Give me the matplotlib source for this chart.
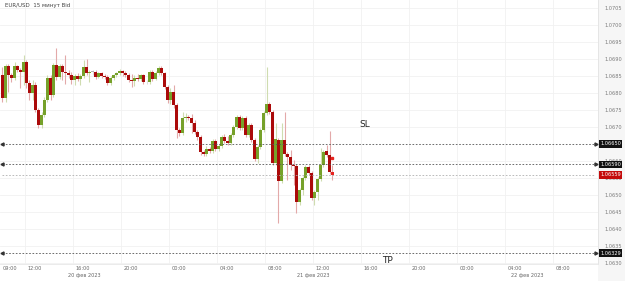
"""EUR/USD 15-minute candlestick chart with SL / TP levels."""

from datetime import datetime, timedelta

import matplotlib
matplotlib.use('Agg')
import matplotlib.pyplot as plt
import matplotlib.dates as mdates
import matplotlib.transforms as mtransforms
from matplotlib.patches import Rectangle


START = datetime(2023, 2, 20, 10, 0)
STEP = timedelta(minutes=15)
VIEW_LEFT = datetime(2023, 2, 20, 9, 55)
VIEW_RIGHT = datetime(2023, 2, 22, 11, 45)

opens = [
    1.06853, 1.06785, 1.06879, 1.06853, 1.06844, 1.06879, 1.06868, 1.06862, 1.06891, 1.06829,
    1.06800, 1.06824, 1.06750, 1.06706, 1.06735, 1.06779, 1.06844, 1.06794, 1.06882, 1.06847,
    1.06879, 1.06862, 1.06859, 1.06853, 1.06838, 1.06850, 1.06841, 1.06850, 1.06876, 1.06859,
    1.06862, 1.06862, 1.06847, 1.06859, 1.06850, 1.06847, 1.06829, 1.06844, 1.06853, 1.06859,
    1.06865, 1.06859, 1.06853, 1.06838, 1.06835, 1.06844, 1.06841, 1.06853, 1.06832, 1.06832,
    1.06862, 1.06841, 1.06859, 1.06874, 1.06859, 1.06818, 1.06779, 1.06803, 1.06765, 1.06691,
    1.06682, 1.06726, 1.06729, 1.06726, 1.06712, 1.06685, 1.06671, 1.06626, 1.06621, 1.06635,
    1.06629, 1.06659, 1.06635, 1.06644, 1.06671, 1.06659, 1.06653, 1.06676, 1.06700, 1.06729,
    1.06697, 1.06726, 1.06676, 1.06706, 1.06662, 1.06606, 1.06641, 1.06691, 1.06741, 1.06768,
    1.06744, 1.06594, 1.06662, 1.06541, 1.06662, 1.06621, 1.06612, 1.06588, 1.06585, 1.06479,
    1.06515, 1.06550, 1.06582, 1.06565, 1.06491, 1.06509, 1.06547, 1.06588, 1.06629, 1.06618,
    1.06568,
]
closes = [
    1.06785, 1.06879, 1.06853, 1.06844, 1.06879, 1.06868, 1.06862, 1.06891, 1.06829, 1.06800,
    1.06824, 1.06750, 1.06706, 1.06735, 1.06779, 1.06844, 1.06794, 1.06882, 1.06847, 1.06879,
    1.06862, 1.06859, 1.06853, 1.06838, 1.06850, 1.06841, 1.06850, 1.06876, 1.06859, 1.06862,
    1.06862, 1.06847, 1.06859, 1.06850, 1.06847, 1.06829, 1.06844, 1.06853, 1.06859, 1.06865,
    1.06859, 1.06853, 1.06838, 1.06835, 1.06844, 1.06841, 1.06853, 1.06832, 1.06832, 1.06862,
    1.06841, 1.06859, 1.06874, 1.06859, 1.06818, 1.06779, 1.06803, 1.06765, 1.06691, 1.06682,
    1.06726, 1.06729, 1.06726, 1.06712, 1.06685, 1.06671, 1.06626, 1.06621, 1.06635, 1.06629,
    1.06659, 1.06635, 1.06644, 1.06671, 1.06659, 1.06653, 1.06676, 1.06700, 1.06729, 1.06697,
    1.06726, 1.06676, 1.06706, 1.06662, 1.06606, 1.06641, 1.06691, 1.06741, 1.06768, 1.06744,
    1.06594, 1.06665, 1.06541, 1.06662, 1.06621, 1.06612, 1.06588, 1.06585, 1.06479, 1.06515,
    1.06550, 1.06582, 1.06565, 1.06491, 1.06509, 1.06547, 1.06588, 1.06626, 1.06618, 1.06568,
    1.06559,
]
highs = [
    1.06876, 1.06885, 1.06885, 1.06859, 1.06891, 1.06882, 1.06874, 1.06912, 1.06897, 1.06838,
    1.06838, 1.06832, 1.06756, 1.06744, 1.06788, 1.06853, 1.06853, 1.06888, 1.06932, 1.06885,
    1.06885, 1.06912, 1.06868, 1.06862, 1.06856, 1.06859, 1.06856, 1.06897, 1.06900, 1.06868,
    1.06868, 1.06868, 1.06862, 1.06862, 1.06856, 1.06853, 1.06850, 1.06856, 1.06862, 1.06871,
    1.06868, 1.06865, 1.06859, 1.06856, 1.06853, 1.06856, 1.06856, 1.06856, 1.06838, 1.06868,
    1.06868, 1.06865, 1.06879, 1.06879, 1.06862, 1.06824, 1.06815, 1.06824, 1.06770, 1.06697,
    1.06744, 1.06741, 1.06735, 1.06738, 1.06721, 1.06691, 1.06676, 1.06632, 1.06644, 1.06641,
    1.06665, 1.06665, 1.06650, 1.06676, 1.06679, 1.06674, 1.06682, 1.06706, 1.06735, 1.06735,
    1.06732, 1.06732, 1.06712, 1.06712, 1.06668, 1.06647, 1.06697, 1.06747, 1.06876, 1.06773,
    1.06750, 1.06712, 1.06668, 1.06712, 1.06744, 1.06626, 1.06632, 1.06603, 1.06591, 1.06521,
    1.06556, 1.06588, 1.06588, 1.06571, 1.06515, 1.06553, 1.06638, 1.06632, 1.06647, 1.06688,
    1.06588,
]
lows = [
    1.06773, 1.06773, 1.06803, 1.06832, 1.06838, 1.06862, 1.06815, 1.06824, 1.06815, 1.06779,
    1.06779, 1.06744, 1.06697, 1.06697, 1.06729, 1.06773, 1.06779, 1.06788, 1.06838, 1.06841,
    1.06838, 1.06826, 1.06844, 1.06826, 1.06824, 1.06835, 1.06824, 1.06844, 1.06853, 1.06832,
    1.06853, 1.06841, 1.06844, 1.06844, 1.06841, 1.06824, 1.06824, 1.06838, 1.06847, 1.06853,
    1.06850, 1.06847, 1.06832, 1.06818, 1.06821, 1.06835, 1.06835, 1.06826, 1.06826, 1.06826,
    1.06835, 1.06838, 1.06853, 1.06853, 1.06812, 1.06770, 1.06768, 1.06756, 1.06668, 1.06674,
    1.06676, 1.06715, 1.06721, 1.06682, 1.06679, 1.06662, 1.06618, 1.06615, 1.06615, 1.06624,
    1.06624, 1.06629, 1.06629, 1.06638, 1.06653, 1.06647, 1.06647, 1.06671, 1.06694, 1.06691,
    1.06691, 1.06671, 1.06671, 1.06656, 1.06600, 1.06594, 1.06635, 1.06685, 1.06735, 1.06738,
    1.06588, 1.06588, 1.06418, 1.06535, 1.06615, 1.06544, 1.06574, 1.06529, 1.06447, 1.06471,
    1.06500, 1.06544, 1.06559, 1.06485, 1.06471, 1.06485, 1.06541, 1.06582, 1.06612, 1.06562,
    1.06544,
]

# order levels
SL_PRICE = 1.06650
ORDER_PRICE = 1.06590
BID_PRICE = 1.06559
TP_PRICE = 1.06329
ENTRY_MARK = 1.06609

PRICE_TICKS = [1.0630, 1.0635, 1.0640, 1.0645, 1.0650, 1.0655, 1.0660,
               1.0670, 1.0675, 1.0680, 1.0685, 1.0690, 1.0695, 1.0700, 1.0705]
Y_LIMITS = (1.06297, 1.070735)

TIME_TICKS = ['2023-02-20 12:00', '2023-02-20 16:00', '2023-02-20 20:00',
              '2023-02-21 00:00', '2023-02-21 04:00', '2023-02-21 08:00',
              '2023-02-21 12:00', '2023-02-21 16:00', '2023-02-21 20:00',
              '2023-02-22 00:00', '2023-02-22 04:00', '2023-02-22 08:00']
FIRST_LABEL = '09:00'
DAYS = ['2023-02-20', '2023-02-21', '2023-02-22']
DAY_LABELS = ['20 фев 2023', '21 фев 2023', '22 фев 2023']

UP_COLOR = '#76a12a'
DOWN_COLOR = '#ab0a0a'
UP_WICK = '#cfdcb0'
DOWN_WICK = '#e3a9a9'
LAST_COLOR = '#e8231f'

fig = plt.figure(figsize=(6.25, 2.81), dpi=100)
fig.patch.set_facecolor('#ffffff')
# price scale background
fig.patches.append(Rectangle((598 / 625, 0), 27 / 625, 1, transform=fig.transFigure,
                             facecolor='#f6f6f6', edgecolor='none', zorder=-5))
ax = fig.add_axes([0, 17 / 281, 598 / 625, 264 / 281])
ax.set_facecolor('#ffffff')
ax.set_zorder(2)

# Candles
width = 0.72 / 96
for i, (o, h, l, c) in enumerate(zip(opens, highs, lows, closes)):
    t = mdates.date2num(START + i * STEP + STEP / 2)
    if c > o:
        body, wick = UP_COLOR, UP_WICK
    elif c < o:
        body, wick = DOWN_COLOR, DOWN_WICK
    else:
        body, wick = '#b5b5b5', '#dddddd'
    if i == len(opens) - 1:
        body = LAST_COLOR
    ax.vlines(t, l, h, color=wick, linewidth=0.8, zorder=2)
    ax.bar(t, max(abs(c - o), 0.000012), bottom=min(o, c), width=width,
           color=body, linewidth=0, zorder=3)

last_t = mdates.date2num(START + (len(opens) - 1) * STEP + STEP / 2)
ax.plot(last_t, ENTRY_MARK, marker='s', ms=1.6, color=LAST_COLOR, zorder=4)

# Level lines
level_tr = mtransforms.blended_transform_factory(ax.transAxes, ax.transData)
for price, col in [(SL_PRICE, '#555555'), (ORDER_PRICE, '#555555'),
                   (BID_PRICE, '#b0b0b0'), (TP_PRICE, '#555555')]:
    ax.plot([0.004, 0.995], [price, price], transform=level_tr, color=col,
            linewidth=0.6, linestyle=(0, (2, 2)), zorder=4)
    if col != '#b0b0b0':
        ax.plot(0.004, price, transform=level_tr, marker='<', ms=2.2, color='#333333',
                clip_on=False, zorder=5)
        ax.plot(0.996, price, transform=level_tr, marker='>', ms=2.2, color='#333333',
                clip_on=False, zorder=5)

# Price boxes on the right scale
for price, fc in [(SL_PRICE, '#111111'), (ORDER_PRICE, '#111111'),
                  (BID_PRICE, '#c40c0c'), (TP_PRICE, '#111111')]:
    ax.text(1.0035, price, f'{price:.5f}', transform=level_tr, fontsize=3.6,
            color='white', ha='left', va='center', clip_on=False, zorder=10,
            bbox=dict(boxstyle='square,pad=0.25', fc=fc, ec='none'))

# SL / TP captions
sl_t = mdates.date2num(datetime(2023, 2, 21, 16, 20))
tp_t = mdates.date2num(datetime(2023, 2, 21, 18, 10))
ax.annotate('SL', (sl_t, SL_PRICE), xytext=(0, 14), textcoords='offset points',
            fontsize=6.5, color='#222222', ha='center', va='center')
ax.annotate('TP', (tp_t, TP_PRICE), xytext=(0, -5), textcoords='offset points',
            fontsize=6.5, color='#222222', ha='center', va='center', annotation_clip=False)

# Axes formatting
ax.set_xlim(mdates.date2num(VIEW_LEFT), mdates.date2num(VIEW_RIGHT))
ax.set_ylim(*Y_LIMITS)
ax.yaxis.tick_right()
ax.set_yticks(PRICE_TICKS)
ax.set_yticklabels([f'{p:.4f}' for p in PRICE_TICKS])
ax.tick_params(axis='y', length=0, pad=4.5, labelsize=3.6, labelcolor='#7a7a7a')
tick_times = [datetime.strptime(s, '%Y-%m-%d %H:%M') for s in TIME_TICKS]
ax.set_xticks(mdates.date2num(tick_times))
ax.tick_params(axis='x', length=0, labelbottom=False)
ax.grid(True, color='#f1f1f1', linewidth=0.6)
ax.set_axisbelow(True)
for side in ['top', 'left']:
    ax.spines[side].set_visible(False)
ax.spines['right'].set_color('#e2e2e2')
ax.spines['bottom'].set_color('#e8e8e8')
ax.spines['right'].set_linewidth(0.6)
ax.spines['bottom'].set_linewidth(0.6)

# Time labels (left-aligned just after the grid line)
xtr = mtransforms.blended_transform_factory(ax.transData, ax.transAxes)
shift = mtransforms.ScaledTranslation(3 / 100, -2 / 100, fig.dpi_scale_trans)
for t in tick_times:
    ax.text(mdates.date2num(t), 0, t.strftime('%H:%M'), transform=xtr + shift,
            fontsize=3.6, color='#666666', ha='left', va='top')
ax.text(0, 0, FIRST_LABEL, transform=ax.transAxes + shift, fontsize=3.6,
        color='#666666', ha='left', va='top')

# Day labels centred on the visible part of each day
day_shift = mtransforms.ScaledTranslation(0, -8.5 / 100, fig.dpi_scale_trans)
for day, label in zip(DAYS, DAY_LABELS):
    d0 = datetime.strptime(day, '%Y-%m-%d')
    a = max(d0, VIEW_LEFT)
    b = min(d0 + timedelta(days=1), VIEW_RIGHT)
    mid = mdates.date2num(a + (b - a) / 2)
    ax.text(mid, 0, label, transform=xtr + day_shift, fontsize=3.6, color='#666666',
            ha='center', va='top')

fig.text(5 / 625, 1 - 6 / 281, 'EUR/USD  15 минут Bid', fontsize=4, color='#444444',
         ha='left', va='center')

plt.savefig('out.png', dpi=100)
plt.close(fig)
